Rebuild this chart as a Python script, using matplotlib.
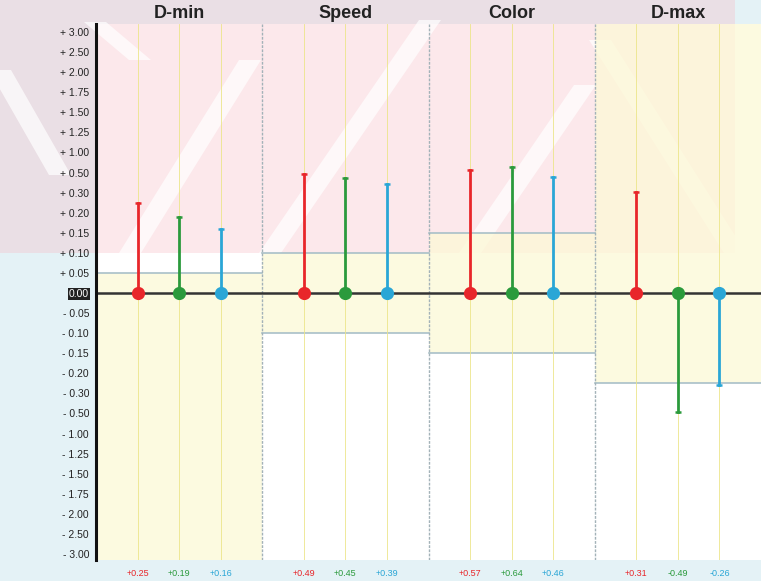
import numpy as np
import matplotlib.pyplot as plt
from matplotlib.patches import Rectangle, Polygon

plt.rcParams['font.family'] = ['Liberation Sans', 'DejaVu Sans']

# Data
panels = ['D-min', 'Speed', 'Color', 'D-max']
red_vals = [0.25, 0.49, 0.57, 0.31]
green_vals = [0.19, 0.45, 0.64, -0.49]
cyan_vals = [0.16, 0.39, 0.46, -0.26]
# tolerance boxes (low, high), None = open to the edge
tol_low = [None, -0.10, -0.15, -0.25]
tol_high = [0.05, 0.10, 0.15, None]
tick_vals = [-3.00, -2.50, -2.00, -1.75, -1.50, -1.25, -1.00, -0.50, -0.30, -0.20,
             -0.15, -0.10, -0.05, 0.00, 0.05, 0.10, 0.15, 0.20, 0.30, 0.50,
             1.00, 1.25, 1.50, 1.75, 2.00, 2.50, 3.00]

tick_idx = np.arange(len(tick_vals)) - 13
W, H = 761, 581
L, R, T, B = 96, 761, 24, 560
ylo, yhi = -13.3, 13.4


def ymap(v):
    # non-linear scale: each tick is one step
    return np.interp(v, tick_vals, tick_idx)


fig = plt.figure(figsize=(W/100, H/100), dpi=100)
fig.patch.set_facecolor('#e4f2f6')

# background: plot area + faint pink watermark band
bg = fig.add_axes([0, 0, 1, 1], zorder=0)
bg.set_xlim(0, W)
bg.set_ylim(H, 0)
bg.axis('off')
bg.add_patch(Rectangle((L, T), R-L, B-T, color='white', lw=0))
bg.add_patch(Rectangle((0, 0), 735, 253, color='#f7b8c2', alpha=0.32, lw=0))
stripes = [((130, 253), (250, 60)), ((270, 253), (430, 20)), ((470, 253), (585, 85)),
           ((95, 22), (140, 60)), ((600, 40), (735, 253)), ((0, 70), (60, 175))]
for (x0, y0), (x1, y1) in stripes:
    w = 11
    bg.add_patch(Polygon([(x0-w, y0), (x0+w, y0), (x1+w, y1), (x1-w, y1)],
                         closed=True, color='white', alpha=0.7, lw=0))

ax = fig.add_axes([L/W, 1-B/H, (R-L)/W, (B-T)/H], zorder=1)
ax.set_facecolor('none')
ax.set_xlim(0, 4)
ax.set_ylim(ylo, yhi)

offsets = [0.25, 0.5, 0.75]
colors = ['#e8262a', '#2b9a3c', '#2aa6d6']
series = [red_vals, green_vals, cyan_vals]

for i in range(4):
    lo = ylo if tol_low[i] is None else ymap(tol_low[i])
    hi = yhi if tol_high[i] is None else ymap(tol_high[i])
    ax.add_patch(Rectangle((i, lo), 1, hi-lo, facecolor='#fcf9d6', alpha=0.75,
                           edgecolor='none', zorder=0.5))
    for b in (tol_low[i], tol_high[i]):
        if b is not None:
            ax.plot([i, i+1], [ymap(b)]*2, color='#a9c0c8', lw=1.2, zorder=0.6)
    for off in offsets:
        ax.axvline(i+off, color='#ece58a', lw=0.6, zorder=0.7)
    if i > 0:
        ax.axvline(i, color='#a3b2b8', lw=1.0, ls=(0, (2, 1)), zorder=0.8)

ax.axhline(0, color='#333333', lw=1.8, zorder=2)

for s, vals in enumerate(series):
    for i, v in enumerate(vals):
        x = i + offsets[s]
        y = ymap(v)
        ax.plot([x, x], [0, y], color=colors[s], lw=2, zorder=3)
        ax.plot(x, y, marker='_', ms=5, mew=1.8, color=colors[s], zorder=3)
        ax.plot(x, 0, marker='o', ms=9.5, color=colors[s], mec='none', zorder=4)
        fig.text((L + (R-L)/4*x)/W, 1-573/H, '%+.2f' % v, color=colors[s],
                 fontsize=6.5, ha='center', va='center')

for sp in ['top', 'right', 'bottom']:
    ax.spines[sp].set_visible(False)
ax.spines['left'].set_linewidth(2.2)
ax.spines['left'].set_color('#111111')
ax.set_xticks([])

labels = []
for v in tick_vals:
    if v == 0:
        labels.append('0.00')
    elif v > 0:
        labels.append('+ %.2f' % v)
    else:
        labels.append('- %.2f' % abs(v))
ax.set_yticks(tick_idx)
ax.set_yticklabels(labels, fontsize=7.5, color='#222222')
ax.tick_params(axis='y', length=0, pad=5)
for t in ax.get_yticklabels():
    if t.get_text() == '0.00':
        t.set_color('white')
        t.set_bbox(dict(facecolor='#222222', edgecolor='none', pad=0.8))

for i, name in enumerate(panels):
    fig.text((L + (R-L)/4*(i+0.5))/W, 1-14/H, name, fontsize=13, fontweight='bold',
             ha='center', va='center', color='#222222')

fig.savefig('out.png', dpi=100, facecolor=fig.get_facecolor())
